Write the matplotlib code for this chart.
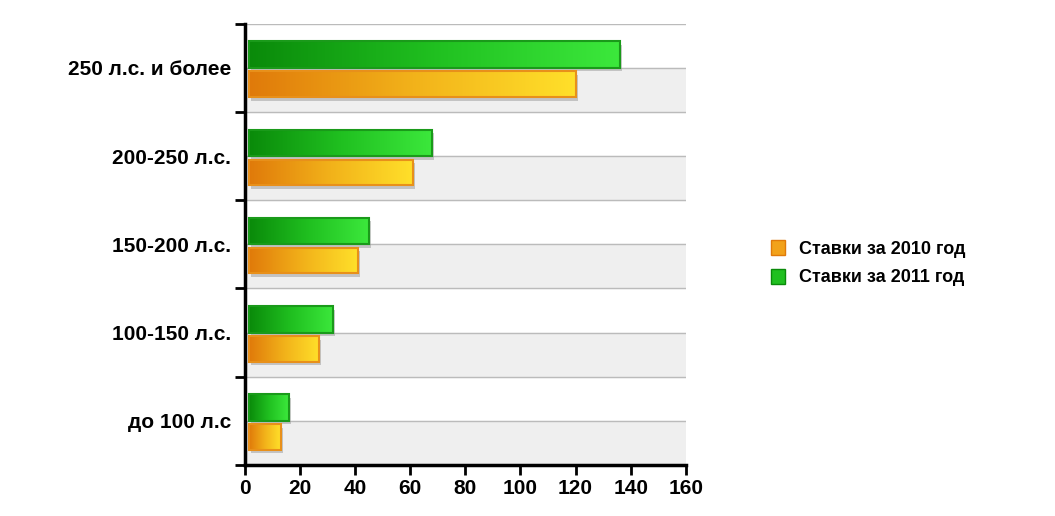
import numpy as np
import matplotlib
matplotlib.use("Agg")
from matplotlib import pyplot as plt
from matplotlib.colors import LinearSegmentedColormap
from matplotlib.patches import Rectangle

categories = ["до 100 л.с", "100-150 л.с.", "150-200 л.с.", "200-250 л.с.", "250 л.с. и более"]
rates_2010 = [13, 27, 41, 61, 120]
rates_2011 = [16, 32, 45, 68, 136]
legend_labels = ["Ставки за 2010 год", "Ставки за 2011 год"]

orange_cmap = LinearSegmentedColormap.from_list("o", ["#e07a0a", "#f2b21a", "#ffe02a"])
green_cmap = LinearSegmentedColormap.from_list("g", ["#0a8a0a", "#20c020", "#3ce83c"])

fig = plt.figure(figsize=(10.55, 5.16), dpi=100)
ax = fig.add_axes([0.232, 0.099, 0.418, 0.855])
ax.set_xlim(0, 160)
ax.set_ylim(0, 5)

# background bands and grid
for i in range(5):
    ax.add_patch(Rectangle((0, i), 160, 0.5, color="#efefef", zorder=0))
    ax.axhline(i + 0.5, color="#bbbbbb", lw=1, zorder=1)
    ax.axhline(i, color="#bbbbbb", lw=1, zorder=1)
ax.axhline(5, color="#bbbbbb", lw=1, zorder=1)

grad = np.linspace(0, 1, 256).reshape(1, -1)
x0 = 1.5
for i in range(5):
    for val, y0, h, cmap, edge in [(rates_2010[i], i + 0.17, 0.29, orange_cmap, "#e8901a"),
                                   (rates_2011[i], i + 0.50, 0.30, green_cmap, "#1a9a1a")]:
        # shadow
        ax.add_patch(Rectangle((x0 + 0.8, y0 - 0.04), val - x0, h, color="#999999", alpha=0.5, zorder=2, lw=0))
        ax.imshow(grad, cmap=cmap, aspect="auto", extent=(x0, val, y0, y0 + h), zorder=3)
        ax.add_patch(Rectangle((x0, y0), val - x0, h, fill=False, edgecolor=edge, lw=1.5, zorder=4))
ax.set_xlim(0, 160)
ax.set_ylim(0, 5)

for s in ["top", "right"]:
    ax.spines[s].set_visible(False)
ax.spines["left"].set_linewidth(2.5)
ax.spines["bottom"].set_linewidth(2.5)
ax.set_xticks(range(0, 161, 20))
ax.set_yticks(range(6))
ax.set_yticklabels([])
ax.set_yticks([i + 0.5 for i in range(5)], minor=True)
ax.set_yticklabels(categories, minor=True, fontsize=15, fontweight="bold", family="Liberation Sans")
ax.tick_params(axis="y", which="minor", length=0, pad=10)
ax.tick_params(axis="y", which="major", direction="out", length=7, width=2)
ax.tick_params(axis="x", direction="out", length=7, width=2, labelsize=15)
for t in ax.get_xticklabels():
    t.set_fontweight("bold")
    t.set_family("Liberation Sans")

handles = [Rectangle((0, 0), 1, 1, facecolor="#f2a21a", edgecolor="#e07a0a"),
           Rectangle((0, 0), 1, 1, facecolor="#20c020", edgecolor="#0a8a0a")]
fig.legend(handles, legend_labels, loc="center left", bbox_to_anchor=(0.715, 0.49), frameon=False,
           prop={"family": "Liberation Sans", "weight": "bold", "size": 13},
           handlelength=0.8, handleheight=0.9, labelspacing=0.6)

fig.savefig("out.png", dpi=100)
